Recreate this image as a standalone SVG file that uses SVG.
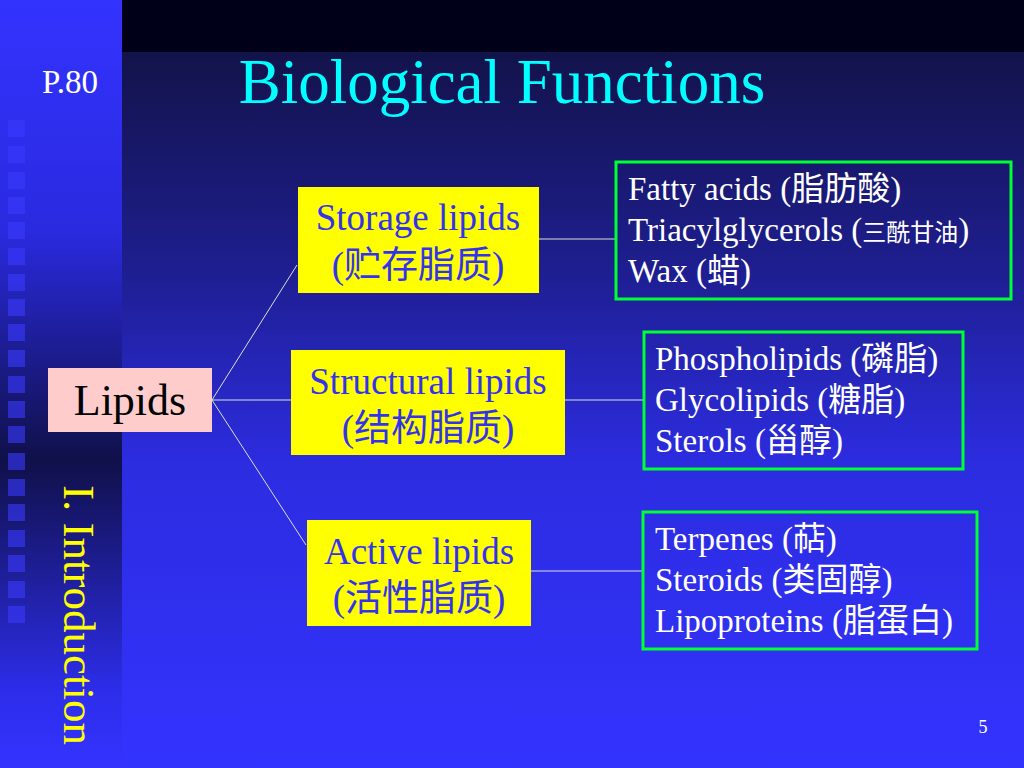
<svg xmlns="http://www.w3.org/2000/svg" width="1024" height="768" viewBox="0 0 1024 768">
<defs>
<linearGradient id="lg" x1="0" y1="0" x2="0" y2="1"><stop offset="0" stop-color="#3333ff"/><stop offset="0.3" stop-color="#2a2ae0"/><stop offset="0.6" stop-color="#10104a"/><stop offset="0.9" stop-color="#2d2dea"/><stop offset="1" stop-color="#3333ff"/></linearGradient>
<linearGradient id="rg" x1="0" y1="0" x2="0" y2="1"><stop offset="0" stop-color="#10103a"/><stop offset="0.35" stop-color="#1e1e90"/><stop offset="0.6" stop-color="#2c2ce0"/><stop offset="1" stop-color="#3333ff"/></linearGradient>
<style>
.t{font-family:"Liberation Serif","Noto Sans CJK SC",serif}
.y{fill:#ffff00}
.n{fill:#3333ee;font-size:37px}
.l{font-size:33px}
.g{fill:none;stroke:#00ff33;stroke-width:3}
.c{stroke:#dddddd;stroke-width:1;fill:none}
</style>
</defs>
<rect width="1024" height="768" fill="url(#rg)"/>
<rect x="122" width="902" height="52" fill="#000018"/>
<rect width="122" height="768" fill="url(#lg)"/>
<g fill="#3a3aff" opacity="0.6">
<rect x="8" y="120" width="17" height="17"/><rect x="8" y="146" width="17" height="17"/><rect x="8" y="172" width="17" height="17"/><rect x="8" y="197" width="17" height="17"/><rect x="8" y="222" width="17" height="17"/><rect x="8" y="248" width="17" height="17"/><rect x="8" y="274" width="17" height="17"/><rect x="8" y="299" width="17" height="17"/><rect x="8" y="324" width="17" height="17"/><rect x="8" y="350" width="17" height="17"/><rect x="8" y="376" width="17" height="17"/><rect x="8" y="401" width="17" height="17"/><rect x="8" y="426" width="17" height="17"/><rect x="8" y="453" width="17" height="17"/><rect x="8" y="479" width="17" height="17"/><rect x="8" y="504" width="17" height="17"/><rect x="8" y="530" width="17" height="17"/><rect x="8" y="555" width="17" height="17"/><rect x="8" y="581" width="17" height="17"/><rect x="8" y="606" width="17" height="17"/>
</g>
<text class="t" x="42" y="93" font-size="33" fill="#ffffff">P.80</text>
<text class="t" x="502" y="103" font-size="63" fill="#00ffff" text-anchor="middle">Biological Functions</text>
<text class="t y" font-size="45" transform="translate(64,485) rotate(90)">I. Introduction</text>
<text class="t" x="983" y="733" font-size="18" fill="#ffffff" text-anchor="middle">5</text>
<g id="connectors">
<line class="c" x1="212" y1="400" x2="297" y2="265"/>
<line class="c" x1="212" y1="400" x2="291" y2="400"/>
<line class="c" x1="212" y1="400" x2="306" y2="545"/>
<line class="c" x1="539" y1="239" x2="616" y2="239"/>
<line class="c" x1="565" y1="400" x2="643" y2="400"/>
<line class="c" x1="531" y1="571" x2="642" y2="571"/>
</g>
<g id="lipids"><rect x="48" y="368" width="164" height="64" fill="#ffcccc"/><text class="t" x="130" y="415" font-size="44" text-anchor="middle">Lipids</text></g>
<g id="storage"><rect x="298" y="187" width="241" height="106" fill="#ffff00"/><text class="t n" x="418" y="230" text-anchor="middle">Storage lipids</text><text class="t n" x="418" y="278" text-anchor="middle">(贮存脂质)</text></g>
<g id="structural"><rect x="291" y="350" width="274" height="105" fill="#ffff00"/><text class="t n" x="428" y="394" text-anchor="middle">Structural lipids</text><text class="t n" x="428" y="441" text-anchor="middle">(结构脂质)</text></g>
<g id="active"><rect x="307" y="520" width="224" height="106" fill="#ffff00"/><text class="t n" x="419" y="564" text-anchor="middle">Active lipids</text><text class="t n" x="419" y="611" text-anchor="middle">(活性脂质)</text></g>
<g id="storage-list" fill="#ffffff"><rect class="g" x="616" y="162" width="395" height="137"/><text class="t l" x="628" y="200">Fatty acids (脂肪酸)</text><text class="t l" x="628" y="241">Triacylglycerols (<tspan font-size="24">三酰甘油</tspan>)</text><text class="t l" x="628" y="282">Wax (蜡)</text></g>
<g id="structural-list" fill="#ffffff"><rect class="g" x="644" y="332" width="319" height="137"/><text class="t l" x="655" y="370">Phospholipids (磷脂)</text><text class="t l" x="655" y="411">Glycolipids (糖脂)</text><text class="t l" x="655" y="452">Sterols (甾醇)</text></g>
<g id="active-list" fill="#ffffff"><rect class="g" x="643" y="512" width="334" height="137"/><text class="t l" x="655" y="550">Terpenes (萜)</text><text class="t l" x="655" y="591">Steroids (类固醇)</text><text class="t l" x="655" y="632">Lipoproteins (脂蛋白)</text></g>
</svg>
